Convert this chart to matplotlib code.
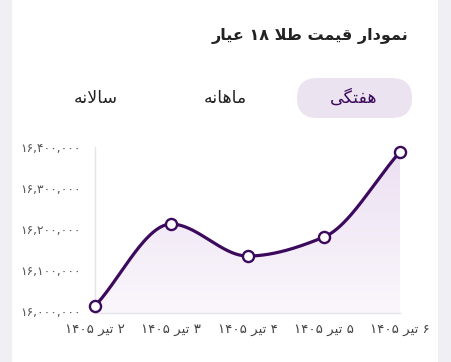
import numpy as np
import matplotlib.pyplot as plt
from matplotlib.patches import FancyBboxPatch, Rectangle, Polygon
from matplotlib.colors import LinearSegmentedColormap

# داده‌ها
days = ["۲ تیر ۱۴۰۵", "۳ تیر ۱۴۰۵", "۴ تیر ۱۴۰۵", "۵ تیر ۱۴۰۵", "۶ تیر ۱۴۰۵"]
prices = [16012000, 16212000, 16134000, 16180000, 16388000]
yticks = [16000000, 16100000, 16200000, 16300000, 16400000]
title = "نمودار قیمت طلا ۱۸ عیار"
tabs = ["هفتگی", "ماهانه", "سالانه"]

LINE = "#3b0a5c"

# شکل‌دهی ساده حروف فارسی (matplotlib حروف را به هم وصل نمی‌کند)
FORMS = {
    'ا': ('\uFE8D', '\uFE8E', None, None),
    'د': ('\uFEA9', '\uFEAA', None, None),
    'ر': ('\uFEAD', '\uFEAE', None, None),
    'و': ('\uFEED', '\uFEEE', None, None),
    'ن': ('\uFEE5', '\uFEE6', '\uFEE7', '\uFEE8'),
    'م': ('\uFEE1', '\uFEE2', '\uFEE3', '\uFEE4'),
    'ق': ('\uFED5', '\uFED6', '\uFED7', '\uFED8'),
    'ی': ('\uFBFC', '\uFBFD', '\uFBFE', '\uFBFF'),
    'ت': ('\uFE95', '\uFE96', '\uFE97', '\uFE98'),
    'ط': ('\uFEC1', '\uFEC2', '\uFEC3', '\uFEC4'),
    'ل': ('\uFEDD', '\uFEDE', '\uFEDF', '\uFEE0'),
    'ع': ('\uFEC9', '\uFECA', '\uFECB', '\uFECC'),
    'ه': ('\uFEE9', '\uFEEA', '\uFEEB', '\uFEEC'),
    'ف': ('\uFED1', '\uFED2', '\uFED3', '\uFED4'),
    'گ': ('\uFB92', '\uFB93', '\uFB94', '\uFB95'),
    'س': ('\uFEB1', '\uFEB2', '\uFEB3', '\uFEB4'),
}


def dual(c):
    return c in FORMS and FORMS[c][2] is not None


def shape(text):
    out = []
    i = 0
    n = len(text)
    while i < n:
        c = text[i]
        if c not in FORMS:
            out.append(c)
            i += 1
            continue
        prev = text[i - 1] if i > 0 else ''
        joins_prev = dual(prev)
        # لا
        if c == 'ل' and i + 1 < n and text[i + 1] == 'ا':
            out.append('\uFEFC' if joins_prev else '\uFEFB')
            i += 2
            continue
        nxt = text[i + 1] if i + 1 < n else ''
        joins_next = dual(c) and nxt in FORMS
        iso, fin, ini, med = FORMS[c]
        if joins_prev and joins_next:
            out.append(med)
        elif joins_prev:
            out.append(fin)
        elif joins_next:
            out.append(ini)
        else:
            out.append(iso)
        i += 1
    # ترتیب نمایشی راست به چپ، اعداد چپ به راست
    tokens = []
    for ch in ''.join(out):
        is_digit = '\u06F0' <= ch <= '\u06F9'
        if tokens and tokens[-1][0] == is_digit:
            tokens[-1][1].append(ch)
        else:
            tokens.append([is_digit, [ch]])
    res = []
    for is_digit, chars in reversed(tokens):
        res.append(''.join(chars) if is_digit else ''.join(reversed(chars)))
    return ''.join(res)


def fa_num(v):
    s = f"{v:,}"
    return s.translate(str.maketrans("0123456789", "۰۱۲۳۴۵۶۷۸۹"))


def pchip(x, y, num=300):
    x = np.asarray(x, float)
    y = np.asarray(y, float)
    h = np.diff(x)
    d = np.diff(y) / h
    m = np.zeros_like(y)
    for k in range(1, len(y) - 1):
        if d[k - 1] * d[k] > 0:
            w1 = 2 * h[k] + h[k - 1]
            w2 = h[k] + 2 * h[k - 1]
            m[k] = (w1 + w2) / (w1 / d[k - 1] + w2 / d[k])
    m[0] = d[0]
    m[-1] = d[-1]
    xs, ys = [], []
    for k in range(len(h)):
        t = np.linspace(0, 1, num // len(h))
        h00 = 2 * t**3 - 3 * t**2 + 1
        h10 = t**3 - 2 * t**2 + t
        h01 = -2 * t**3 + 3 * t**2
        h11 = t**3 - t**2
        xs.append(x[k] + t * h[k])
        ys.append(h00 * y[k] + h10 * h[k] * m[k] + h01 * y[k + 1] + h11 * h[k] * m[k + 1])
    return np.concatenate(xs), np.concatenate(ys)


plt.rcParams['font.family'] = ['DejaVu Sans']

fig = plt.figure(figsize=(4.51, 3.62), dpi=100, facecolor="#f0f0f4")

# لایه پس‌زمینه با مختصات پیکسلی
bg = fig.add_axes([0, 0, 1, 1])
bg.set_xlim(0, 451)
bg.set_ylim(362, 0)
bg.axis("off")
bg.add_patch(Rectangle((12, -5), 426, 372, facecolor="white", edgecolor="none"))
bg.add_patch(FancyBboxPatch((297, 78), 115, 40, boxstyle="round,pad=0,rounding_size=20",
                            facecolor="#ebe3ef", edgecolor="none"))
bg.text(408, 36, shape(title), ha="right", va="center", fontsize=11.5, fontweight="bold", color="#222222")
tab_x = [354, 225, 96]
for k, (t, xx) in enumerate(zip(tabs, tab_x)):
    bg.text(xx, 98, shape(t), ha="center", va="center", fontsize=12.5,
            color=LINE if k == 0 else "#222222")

# نمودار
ax = fig.add_axes([95 / 451, (362 - 313) / 362, 305 / 451, (313 - 147) / 362])
ax.patch.set_alpha(0)
x = np.arange(len(prices))
xs, ys = pchip(x, prices)
ymin, ymax = 15995000, 16400000

# گرادیان زیر منحنی
grad = np.linspace(0, 1, 256).reshape(-1, 1)
cmap = LinearSegmentedColormap.from_list("g", ["#faf7fc", "#ece0f2"])
im = ax.imshow(grad, extent=[0, 4, ymin, max(prices)], origin="lower", cmap=cmap,
               aspect="auto", zorder=1)
poly = Polygon(np.column_stack([np.r_[xs, xs[-1], xs[0]], np.r_[ys, ymin, ymin]]),
               closed=True, facecolor="none", edgecolor="none", transform=ax.transData)
ax.add_patch(poly)
im.set_clip_path(poly)

ax.plot(xs, ys, color=LINE, lw=2.3, zorder=3, solid_capstyle="round")
ax.plot(x, prices, "o", ms=8, mfc="white", mec=LINE, mew=1.7, zorder=4, clip_on=False)

ax.set_xlim(0, 4)
ax.set_ylim(ymin, ymax)
ax.set_yticks(yticks)
ax.set_yticklabels([fa_num(v) for v in yticks], fontsize=8.8, color="#555555")
ax.set_xticks(x)
ax.set_xticklabels([shape(d) for d in days], fontsize=9.6, color="#444444")
ax.tick_params(length=0)
ax.tick_params(axis="y", pad=10)
ax.tick_params(axis="x", pad=7)
for s in ["top", "right"]:
    ax.spines[s].set_visible(False)
for s in ["left", "bottom"]:
    ax.spines[s].set_color("#e4e4ea")
    ax.spines[s].set_linewidth(1)

fig.savefig("out.png", dpi=100, facecolor=fig.get_facecolor())
